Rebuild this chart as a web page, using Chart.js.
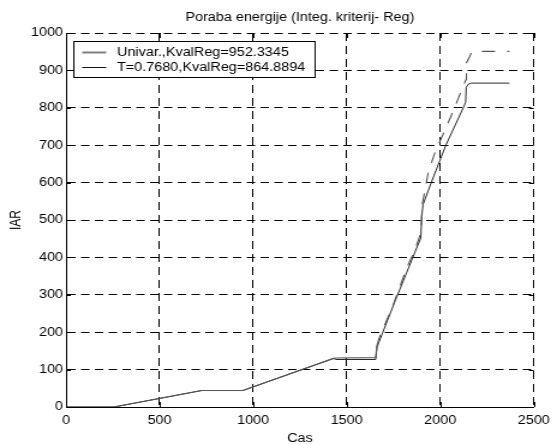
<!DOCTYPE html>
<html><head><meta charset="utf-8">
<script src="https://cdn.jsdelivr.net/npm/chart.js@4.4.1/dist/chart.umd.min.js"></script>
<style>
html,body{margin:0;padding:0;background:#fff;overflow:hidden}
#c{display:block;width:557px;height:445px}
</style>
</head><body>
<canvas id="c" width="464" height="445" style="width:557px;height:445px"></canvas>
<script>
const chartTitle = 'Poraba energije (Integ. kriterij- Reg)';
const xLabel = 'Cas';
const yLabel = 'IAR';
const xTicks = [0, 500, 1000, 1500, 2000, 2500];
const yTicks = [0, 100, 200, 300, 400, 500, 600, 700, 800, 900, 1000];
const seriesNames = ['Univar.,KvalReg=952.3345', 'T=0.7680,KvalReg=864.8894'];

// Univar series
const univarX = [0, 255, 725, 945, 1430, 1445, 1655, 1662, 1672, 1750, 1820, 1864, 1898, 1903, 1917, 1935, 1970, 2014, 2056, 2094, 2137, 2140, 2158, 2170, 2370];
const univarY = [0, 0, 44, 44, 130, 131, 132, 165, 182, 275, 371, 419, 468, 540, 576, 625, 678, 728, 776, 822, 875, 920, 938, 951, 951];

// T = 0.7680 series
const tX = [0, 255, 725, 945, 1430, 1440, 1655, 1662, 1672, 1760, 1896, 1901, 1908, 1952, 2030, 2123, 2136, 2139, 2150, 2165, 2370];
const tY = [0, 0, 44, 44, 130, 127, 127, 160, 173, 285, 452, 510, 541, 600, 700, 800, 815, 855, 863, 866, 866];

const FONT = '"Liberation Sans", Arial, sans-serif';
const zip = (xs, ys) => xs.map((v, i) => ({x: v, y: ys[i]}));

const decor = {
  id: 'decor',
  afterDraw(chart) {
    const {ctx, chartArea: a, scales: {x, y}} = chart;
    ctx.save();
    ctx.setLineDash([]);
    ctx.strokeStyle = '#000';
    ctx.lineWidth = 1;
    // inward tick marks on all four sides
    ctx.beginPath();
    xTicks.forEach(v => {
      const px = Math.round(x.getPixelForValue(v)) + 0.5;
      ctx.moveTo(px, a.bottom); ctx.lineTo(px, a.bottom - 5);
      ctx.moveTo(px, a.top); ctx.lineTo(px, a.top + 5);
    });
    yTicks.forEach(v => {
      const py = Math.round(y.getPixelForValue(v)) + 0.5;
      ctx.moveTo(a.left, py); ctx.lineTo(a.left + 4, py);
      ctx.moveTo(a.right, py); ctx.lineTo(a.right - 4, py);
    });
    ctx.stroke();

    // title
    ctx.font = '12px ' + FONT;
    ctx.fillStyle = '#000';
    ctx.textAlign = 'center';
    ctx.textBaseline = 'middle';
    ctx.fillText(chartTitle, (a.left + a.right) / 2, 18);

    // legend box inside plot
    const bx = Math.round(a.left + 6) + 0.5;
    const by = Math.round(a.top + 8) + 0.5;
    const bw = 201, bh = 36;
    ctx.fillStyle = '#fff';
    ctx.fillRect(bx, by, bw, bh);
    ctx.strokeStyle = '#000';
    ctx.lineWidth = 1;
    ctx.strokeRect(bx, by, bw, bh);
    const rows = [by + 11, by + 26];
    const styles = [{c: '#808080', w: 2}, {c: '#111', w: 1}];
    ctx.textAlign = 'left';
    rows.forEach((ry, i) => {
      ctx.strokeStyle = styles[i].c;
      ctx.lineWidth = styles[i].w;
      ctx.beginPath();
      ctx.moveTo(bx + 7, ry);
      ctx.lineTo(bx + 27, ry);
      ctx.stroke();
      ctx.fillStyle = '#000';
      ctx.fillText(seriesNames[i], bx + 36, ry);
    });
    ctx.restore();
  }
};

new Chart(document.getElementById('c'), {
  type: 'line',
  data: {
    datasets: [
      {
        label: seriesNames[0],
        data: zip(univarX, univarY),
        borderColor: '#555',
        borderWidth: 1.1,
        pointRadius: 0,
        tension: 0,
        fill: false,
        segment: {
          borderDash: c => (c.p0.parsed.x >= 1660 ? [11, 10] : undefined)
        }
      },
      {
        label: seriesNames[1],
        data: zip(tX, tY),
        borderColor: '#2a2a2a',
        borderWidth: 1,
        pointRadius: 0,
        tension: 0,
        fill: false
      }
    ]
  },
  options: {
    responsive: false,
    maintainAspectRatio: false,
    animation: false,
    devicePixelRatio: 1,
    layout: {padding: {top: 33, right: 15.25, bottom: 0, left: 0}},
    plugins: {legend: {display: false}, title: {display: false}, tooltip: {enabled: false}},
    scales: {
      x: {
        type: 'linear',
        min: 0, max: 2500,
        afterBuildTicks: s => { s.ticks = xTicks.map(v => ({value: v})); },
        afterFit: s => { s.height = 38; },
        ticks: {color: '#000', font: {family: FONT, size: 12}, padding: 6, maxRotation: 0, autoSkip: false, callback: v => String(v)},
        grid: {color: '#000', lineWidth: 1, drawTicks: false},
        border: {display: true, color: '#000', width: 1, dash: [8, 5]},
        title: {display: true, text: xLabel, color: '#000', font: {family: FONT, size: 12, lineHeight: 1}, padding: {top: 0, bottom: 0}}
      },
      y: {
        type: 'linear',
        min: 0, max: 1000,
        afterBuildTicks: s => { s.ticks = yTicks.map(v => ({value: v})); },
        afterFit: s => { s.width = 55; },
        ticks: {color: '#000', font: {family: FONT, size: 12}, padding: 2.5, autoSkip: false, callback: v => String(v)},
        grid: {color: '#000', lineWidth: 1, drawTicks: false},
        border: {display: true, color: '#000', width: 1, dash: [7, 4.5]},
        title: {display: true, text: yLabel, color: '#000', font: {family: FONT, size: 12, lineHeight: 1}, padding: {top: 7.5, bottom: 0}}
      }
    }
  },
  plugins: [decor]
});
</script>
</body></html>
